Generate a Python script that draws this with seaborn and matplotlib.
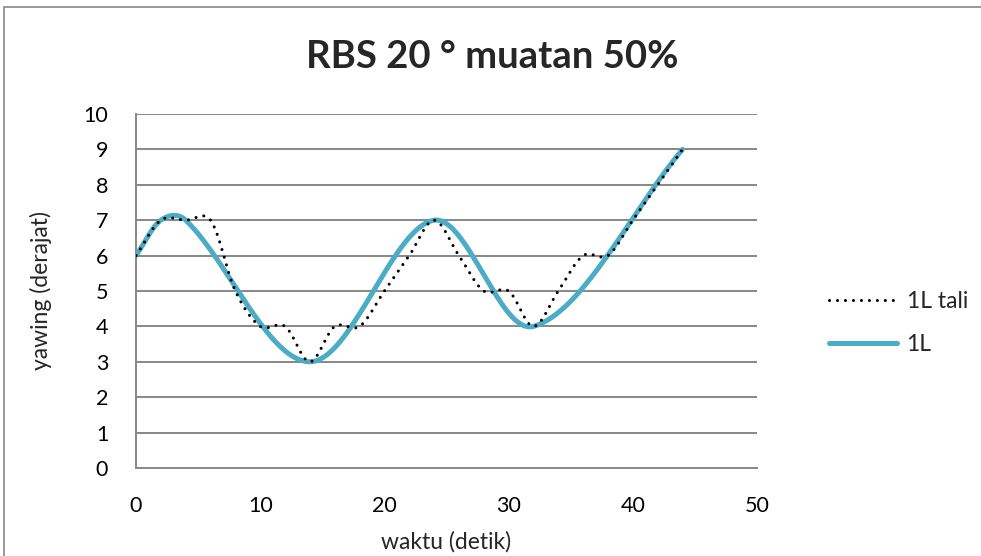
import numpy as np
import pandas as pd
import seaborn as sns
import matplotlib
matplotlib.use("Agg")
import matplotlib.pyplot as plt
from matplotlib.patches import Rectangle
from matplotlib.lines import Line2D

# ---- data ----
tali_x = [0, 2, 4, 6, 8, 10, 12, 14, 16, 18, 20, 22, 24, 26, 28, 30, 32, 34, 36, 38, 40, 42, 44]
tali_y = [6, 7, 7, 7, 5, 4, 4, 3, 4, 4, 5, 6, 7, 6, 5, 5, 4, 5, 6, 6, 7, 8, 9]
l1_x = [0, 2, 4, 14, 24, 32, 44]
l1_y = [6, 7, 7, 3, 7, 4, 9]
series_names = ["1L tali", "1L"]
x_ticks = [0, 10, 20, 30, 40, 50]
y_ticks = list(range(0, 11))
title = "RBS 20 ° muatan 50%"
xlabel = "waktu (detik)"
ylabel = "yawing (derajat)"


def smooth(xs, ys, n=40):
    """Excel-like smoothed line: Bezier segments with chord-scaled Catmull-Rom tangents."""
    P = np.column_stack([xs, ys]).astype(float)
    out = []
    m = len(P)
    for i in range(m - 1):
        p0 = P[i - 1] if i > 0 else P[i]
        p1 = P[i]
        p2 = P[i + 1]
        p3 = P[i + 2] if i + 2 < m else P[i + 1]
        d01 = np.linalg.norm(p1 - p0)
        d12 = np.linalg.norm(p2 - p1)
        d23 = np.linalg.norm(p3 - p2)
        b1 = p1 + (p2 - p0) * (d12 / (d01 + d12)) / 3.0
        b2 = p2 - (p3 - p1) * (d12 / (d12 + d23)) / 3.0
        t = np.linspace(0, 1, n, endpoint=(i == m - 2))[:, None]
        seg = ((1 - t) ** 3) * p1 + 3 * ((1 - t) ** 2) * t * b1 + 3 * (1 - t) * t ** 2 * b2 + t ** 3 * p2
        out.append(seg)
    arr = np.vstack(out)
    return arr[:, 0], arr[:, 1]


sx1, sy1 = smooth(tali_x, tali_y)
sx2, sy2 = smooth(l1_x, l1_y)
df_tali = pd.DataFrame({"x": sx1, "y": sy1, "s": series_names[0]})
df_l1 = pd.DataFrame({"x": sx2, "y": sy2, "s": series_names[1]})

sns.set_theme(style="white")
plt.rcParams["font.family"] = ["Lato", "DejaVu Sans"]

W, H = 981, 556
fig = plt.figure(figsize=(W / 100, H / 100), dpi=100)
ax = fig.add_axes([136 / W, 1 - 468 / H, (757 - 136) / W, (468 - 114) / H])

grid_c = "#878787"
dot_style = (0, (0.01, 2.6))
sns.lineplot(data=df_l1, x="x", y="y", sort=False, estimator=None, ax=ax,
             color="#4BACC6", linewidth=3.6, solid_capstyle="round", zorder=3)
sns.lineplot(data=df_tali, x="x", y="y", sort=False, estimator=None, ax=ax,
             color="black", linewidth=2.2, linestyle=dot_style,
             dash_capstyle="round", zorder=4)

ax.set_xlim(0, 50)
ax.set_ylim(0, 10)
ax.set_xticks(x_ticks)
ax.set_yticks(y_ticks)
ax.tick_params(axis="both", length=0, labelsize=15.5, colors="black")
ax.tick_params(axis="y", pad=20)
ax.tick_params(axis="x", pad=20)
for yv in y_ticks[1:]:
    ax.axhline(yv, color=grid_c, lw=1.4, zorder=1)
for side in ["top", "right"]:
    ax.spines[side].set_visible(False)
for side in ["left", "bottom"]:
    ax.spines[side].set_color(grid_c)
    ax.spines[side].set_linewidth(1.4)

ax.set_xlabel(xlabel, fontsize=16.5, labelpad=11)
ax.set_ylabel(ylabel, fontsize=16.5, labelpad=23)
fig.text(492 / W, 1 - 57 / H, title, fontsize=27.5, fontweight="bold",
         ha="center", va="center")

handles = [Line2D([], [], color="black", lw=2.2, linestyle=dot_style, dash_capstyle="round"),
           Line2D([], [], color="#4BACC6", lw=3.6, solid_capstyle="round")]
leg = fig.legend(handles, series_names, loc="center left",
                 bbox_to_anchor=(808 / W, 1 - 323 / H), frameon=False,
                 fontsize=16.5, handlelength=3.0, handletextpad=0.4, labelspacing=0.95)

fig.patches.append(Rectangle((4 / W, -0.1), 1.2, 1 - 7 / H + 0.1, transform=fig.transFigure,
                             fill=False, edgecolor=grid_c, lw=1.2))

fig.savefig("out.png", dpi=100)
